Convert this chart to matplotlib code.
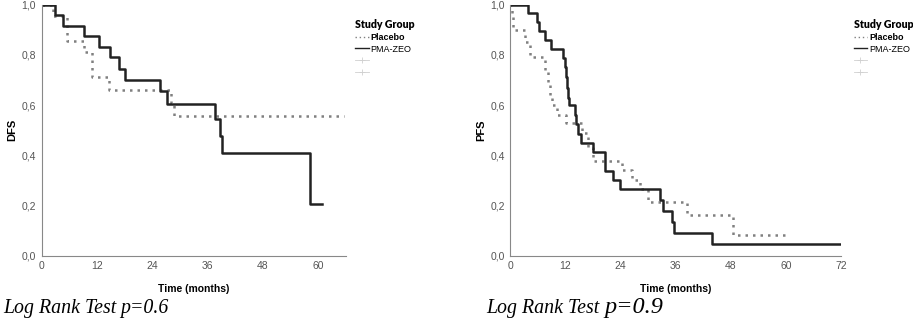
import matplotlib.pyplot as plt
from matplotlib.lines import Line2D
from matplotlib.ticker import FuncFormatter

# DFS panel (left)
dfs_zeo_t = [0, 2.9, 4.7, 9.1, 12.5, 14.9, 16.7, 18.0, 25.7, 27.3, 37.7, 38.6, 39.1, 58.3, 60.9]
dfs_zeo_s = [1.0, 0.96, 0.917, 0.875, 0.833, 0.79, 0.745, 0.70, 0.655, 0.604, 0.545, 0.477, 0.41, 0.205, 0.205]
dfs_pla_t = [0, 2.5, 5.4, 9.1, 10.9, 14.7, 28.0, 28.8, 65.6]
dfs_pla_s = [1.0, 0.955, 0.857, 0.81, 0.71, 0.66, 0.61, 0.555, 0.555]

# PFS panel (right)
pfs_zeo_t = [0, 3.9, 5.7, 6.2, 7.5, 8.9, 11.5, 11.8, 12.1, 12.3, 12.6, 12.8, 14.0, 14.4, 14.8, 15.3,
             18.1, 20.7, 22.3, 23.9, 32.6, 33.3, 35.3, 35.7, 44.0, 72.0]
pfs_zeo_s = [1.0, 0.965, 0.932, 0.896, 0.859, 0.822, 0.786, 0.75, 0.71, 0.67, 0.63, 0.60, 0.56, 0.525,
             0.485, 0.45, 0.413, 0.339, 0.30, 0.264, 0.222, 0.178, 0.135, 0.09, 0.046, 0.046]
pfs_pla_t = [0, 0.3, 0.5, 3.2, 4.3, 7.5, 8.1, 8.6, 9.1, 10.1, 12.1, 15.7, 17.0, 17.9,
             24.4, 26.4, 28.2, 29.9, 38.5, 48.4, 60.2]
pfs_pla_s = [1.0, 0.95, 0.90, 0.85, 0.79, 0.74, 0.69, 0.64, 0.60, 0.56, 0.53, 0.49, 0.43, 0.378,
             0.34, 0.30, 0.265, 0.212, 0.162, 0.082, 0.082]

panels = [
    dict(pos=[0.0457, 0.211, 0.333, 0.7745], xmax=66, xticks=[0, 12, 24, 36, 48, 60], ylabel='DFS',
         zeo=(dfs_zeo_t, dfs_zeo_s), pla=(dfs_pla_t, dfs_pla_s), leg=0.384, p='p=0.6',
         note_x=0.003, psize=14.3),
    dict(pos=[0.559, 0.211, 0.362, 0.7745], xmax=72, xticks=[0, 12, 24, 36, 48, 60, 72], ylabel='PFS',
         zeo=(pfs_zeo_t, pfs_zeo_s), pla=(pfs_pla_t, pfs_pla_s), leg=0.930, p='p=0.9',
         note_x=0.533, psize=17.5),
]

fig = plt.figure(figsize=(9.13, 3.24), dpi=100)
comma = FuncFormatter(lambda v, _: f'{v:.1f}'.replace('.', ','))

for p in panels:
    ax = fig.add_axes(p['pos'])
    ax.step(p['pla'][0], p['pla'][1], where='post', color='#808080', lw=1.8, ls=(0, (1, 2)))
    ax.step(p['zeo'][0], p['zeo'][1], where='post', color='#222222', lw=1.8)
    ax.set_xlim(0, p['xmax'])
    ax.set_ylim(0, 1.0)
    ax.set_xticks(p['xticks'])
    ax.set_yticks([0, 0.2, 0.4, 0.6, 0.8, 1.0])
    ax.yaxis.set_major_formatter(comma)
    for s in ['top', 'right']:
        ax.spines[s].set_visible(False)
    for s in ['left', 'bottom']:
        ax.spines[s].set_color('#888888')
        ax.spines[s].set_linewidth(0.8)
    ax.tick_params(length=0, labelsize=7.5, labelcolor='#555555', pad=4, labelfontfamily='Liberation Sans')
    ax.set_ylabel(p['ylabel'], fontsize=8, fontweight='bold', family='Liberation Sans', labelpad=3)
    ax.set_xlabel('Time (months)', fontsize=7.5, fontweight='bold', family='Liberation Sans', labelpad=9)

    handles = [Line2D([], [], color='#808080', lw=1.0, ls=(0, (1, 2))),
               Line2D([], [], color='#222222', lw=1.0),
               Line2D([], [], color='#d0d0d0', marker='+', ls='-', lw=0.6, ms=5, mew=0.6),
               Line2D([], [], color='#d0d0d0', marker='+', ls='-', lw=0.6, ms=5, mew=0.6)]
    leg = fig.legend(handles, ['Placebo', 'PMA-ZEO', '', ''], title='Study Group', loc='upper left',
                     bbox_to_anchor=(p['leg'], 0.955), frameon=False, handlelength=1.5,
                     handletextpad=0.2, labelspacing=0.3, borderpad=0, alignment='left',
                     prop={'family': 'Liberation Sans', 'size': 6.5})
    leg.get_title().set_fontweight('heavy')
    leg.get_title().set_fontsize(7.6)
    leg.get_title().set_family('Lato')
    leg.get_texts()[0].set_fontweight('bold')

    t1 = fig.text(p['note_x'], 0.035, 'Log Rank Test ', fontsize=14.3, style='italic', family='Liberation Serif')
    fig.canvas.draw()
    bb = t1.get_window_extent().transformed(fig.transFigure.inverted())
    fig.text(bb.x1 - 0.001, 0.035, p['p'], fontsize=p['psize'], style='italic', family='Liberation Serif')

fig.savefig('out.png', dpi=100)
